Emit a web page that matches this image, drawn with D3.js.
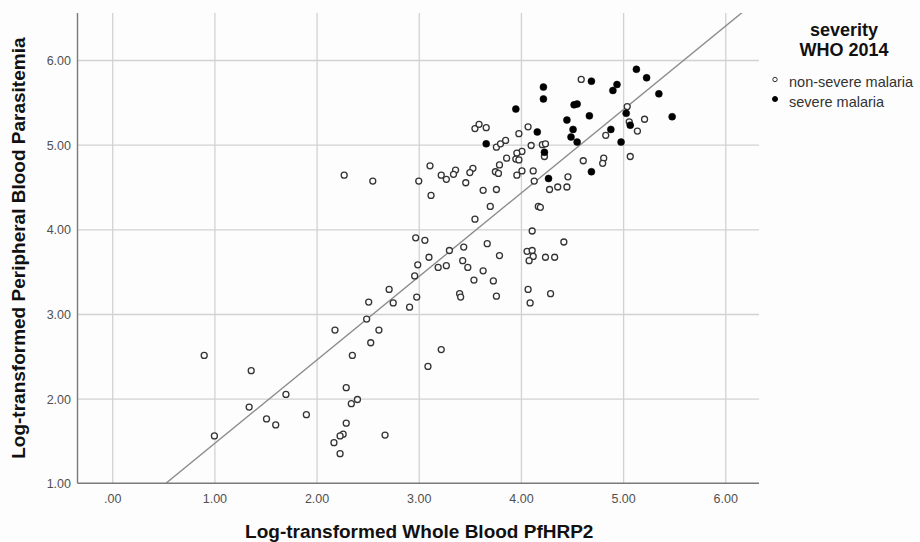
<!DOCTYPE html>
<html>
<head>
<meta charset="utf-8">
<script src="https://cdn.jsdelivr.net/npm/d3@7"></script>
<style>
  html, body { margin: 0; padding: 0; background: #fdfdfd; }
  svg { display: block; font-family: "Liberation Sans", Arial, sans-serif; }
</style>
</head>
<body>
<svg id="chart" width="920" height="542"></svg>
<script>
// ---------- data ----------
const xTickValues = [0, 1, 2, 3, 4, 5, 6];
const xTickLabels = [".00", "1.00", "2.00", "3.00", "4.00", "5.00", "6.00"];
const yTickValues = [1, 2, 3, 4, 5, 6];
const yTickLabels = ["1.00", "2.00", "3.00", "4.00", "5.00", "6.00"];

const xTitle = "Log-transformed Whole Blood PfHRP2";
const yTitle = "Log-transformed Peripheral Blood Parasitemia";
const legendTitle = ["severity", "WHO 2014"];
const seriesNames = ["non-severe malaria", "severe malaria"];

// non-severe malaria: [PfHRP2, parasitemia]
const nonSevere = [
  [0.90, 2.51], [1.00, 1.56], [1.36, 2.33], [1.34, 1.90], [1.51, 1.76], [1.60, 1.69],
  [1.70, 2.05], [1.90, 1.81], [2.18, 2.81], [2.51, 3.14], [2.71, 3.29], [2.75, 3.13],
  [2.49, 2.94], [2.61, 2.81], [2.53, 2.66], [2.35, 2.51], [2.29, 2.13], [2.40, 1.99],
  [2.34, 1.94], [2.29, 1.71], [2.26, 1.58], [2.23, 1.56], [2.17, 1.48], [2.23, 1.35],
  [2.67, 1.57], [2.91, 3.08], [2.98, 3.20], [2.96, 3.45], [2.99, 3.58], [3.10, 3.67],
  [3.19, 3.55], [3.27, 3.57], [3.30, 3.75], [3.09, 2.38], [3.22, 2.58], [3.43, 3.63],
  [3.48, 3.55], [3.40, 3.24], [3.41, 3.20], [3.54, 3.40], [3.63, 3.51], [3.73, 3.39],
  [3.76, 3.21], [3.79, 3.69], [4.07, 3.29], [4.09, 3.13], [4.29, 3.24], [4.06, 3.74],
  [4.11, 3.75], [4.12, 3.68], [4.08, 3.63], [4.24, 3.67], [4.33, 3.67], [2.97, 3.90],
  [3.06, 3.87], [3.44, 3.79], [3.67, 3.83], [4.11, 3.98], [2.27, 4.64], [2.55, 4.57],
  [3.00, 4.57], [3.11, 4.75], [3.22, 4.64], [3.27, 4.59], [3.12, 4.40], [3.55, 5.19],
  [3.59, 5.24], [3.66, 5.20], [4.07, 5.21], [3.98, 5.13], [3.76, 4.97], [3.80, 5.01],
  [3.85, 5.05], [4.10, 4.99], [4.21, 5.00], [4.24, 5.01], [4.23, 4.86], [4.01, 4.92],
  [3.96, 4.90], [3.86, 4.84], [3.95, 4.83], [3.98, 4.82], [3.79, 4.76], [3.53, 4.72],
  [3.50, 4.67], [3.36, 4.70], [3.34, 4.65], [3.75, 4.68], [3.78, 4.66], [4.01, 4.69],
  [3.96, 4.64], [4.12, 4.69], [4.13, 4.57], [4.46, 4.62], [3.46, 4.55], [3.63, 4.46],
  [3.76, 4.47], [4.28, 4.47], [4.36, 4.50], [4.45, 4.50], [3.70, 4.27], [4.17, 4.27],
  [4.19, 4.26], [3.55, 4.12], [4.42, 3.85], [4.59, 5.77], [5.04, 5.45], [5.06, 5.27],
  [5.21, 5.30], [5.14, 5.16], [4.83, 5.11], [4.61, 4.81], [4.81, 4.84], [4.80, 4.78],
  [5.07, 4.86]
];

// severe malaria
const severe = [
  [3.95, 5.42], [4.16, 5.15], [3.66, 5.01], [4.23, 4.91], [4.27, 4.60], [4.22, 5.68],
  [4.22, 5.54], [4.69, 4.68], [4.69, 5.75], [4.90, 5.64], [4.94, 5.71], [5.13, 5.89],
  [5.23, 5.79], [5.35, 5.60], [5.48, 5.33], [4.45, 5.29], [4.52, 5.47], [4.55, 5.48],
  [4.67, 5.34], [4.51, 5.18], [4.49, 5.09], [4.55, 5.03], [4.88, 5.18], [4.98, 5.03],
  [5.03, 5.37], [5.07, 5.23]
];

// linear fit line
const fitIntercept = 0.482;
const fitSlope = 0.986;

// ---------- layout ----------
const pL = 77.5, pR = 759, pT = 13, pB = 483.3;
const svg = d3.select("#chart");

const x = d3.scaleLinear().domain([-0.34, 6.33]).range([pL, pR]);
const y = d3.scaleLinear().domain([1, 6.555]).range([pB, pT]);

svg.append("rect").attr("x", 0).attr("y", 0).attr("width", 920).attr("height", 542).attr("fill", "#fdfdfd");

// gridlines
const gridColor = "#d2d2d2";
svg.append("g")
  .attr("transform", `translate(0,${pB})`)
  .call(d3.axisBottom(x).tickValues(xTickValues).tickSize(-(pB - pT)).tickFormat(""))
  .call(g => g.select(".domain").remove())
  .call(g => g.selectAll("line").attr("stroke", gridColor).attr("stroke-width", 1.3));

svg.append("g")
  .attr("transform", `translate(${pL},0)`)
  .call(d3.axisLeft(y).tickValues(yTickValues.filter(v => v > 1)).tickSize(-(pR - pL)).tickFormat(""))
  .call(g => g.select(".domain").remove())
  .call(g => g.selectAll("line").attr("stroke", gridColor).attr("stroke-width", 1.3));

// axis lines
svg.append("line").attr("x1", pL).attr("x2", pL).attr("y1", pT).attr("y2", pB)
  .attr("stroke", "#7a7a7a").attr("stroke-width", 1.4);
svg.append("line").attr("x1", pL).attr("x2", pR).attr("y1", pB).attr("y2", pB)
  .attr("stroke", "#7a7a7a").attr("stroke-width", 1.4);

// tick labels via axes
svg.append("g")
  .attr("transform", `translate(0,${pB})`)
  .call(d3.axisBottom(x).tickValues(xTickValues).tickSize(0).tickPadding(0)
    .tickFormat((d, i) => xTickLabels[i]))
  .call(g => g.select(".domain").remove())
  .call(g => g.selectAll("text")
    .attr("y", 19.5).attr("dy", null)
    .attr("font-size", "12.5px").attr("fill", "#505050")
    .attr("font-family", "'Liberation Sans', Arial, sans-serif"));

svg.append("g")
  .attr("transform", `translate(${pL},0)`)
  .call(d3.axisLeft(y).tickValues(yTickValues).tickSize(0).tickPadding(0)
    .tickFormat((d, i) => yTickLabels[i]))
  .call(g => g.select(".domain").remove())
  .call(g => g.selectAll("text")
    .attr("x", -6.5).attr("dy", "0.36em")
    .attr("font-size", "12.5px").attr("fill", "#505050")
    .attr("font-family", "'Liberation Sans', Arial, sans-serif"));

// clip for fit line
svg.append("clipPath").attr("id", "plotclip")
  .append("rect").attr("x", pL).attr("y", pT).attr("width", pR - pL).attr("height", pB - pT);

const xd = x.domain();
svg.append("line")
  .attr("clip-path", "url(#plotclip)")
  .attr("x1", x(xd[0])).attr("y1", y(fitIntercept + fitSlope * xd[0]))
  .attr("x2", x(xd[1])).attr("y2", y(fitIntercept + fitSlope * xd[1]))
  .attr("stroke", "#8c8c8c").attr("stroke-width", 1.4);

// points
svg.append("g").selectAll("circle").data(nonSevere).join("circle")
  .attr("cx", d => x(d[0])).attr("cy", d => y(d[1])).attr("r", 3.0)
  .attr("fill", "#fdfdfd").attr("stroke", "#333").attr("stroke-width", 1.3);

svg.append("g").selectAll("circle").data(severe).join("circle")
  .attr("cx", d => x(d[0])).attr("cy", d => y(d[1])).attr("r", 3.5)
  .attr("fill", "#000").attr("stroke", "#000").attr("stroke-width", 0.5);

// axis titles
svg.append("text")
  .attr("x", (pL + pR) / 2 + 1).attr("y", 538)
  .attr("text-anchor", "middle").attr("font-weight", "bold").attr("font-size", "19px")
  .attr("fill", "#111").text(xTitle);

svg.append("text")
  .attr("transform", `translate(25,${(pT + pB) / 2}) rotate(-90)`)
  .attr("text-anchor", "middle").attr("font-weight", "bold").attr("font-size", "19px")
  .attr("fill", "#111").text(yTitle);

// legend
const lg = svg.append("g");
lg.selectAll("text.lt").data(legendTitle).join("text").attr("class", "lt")
  .attr("x", 844).attr("y", (d, i) => 36 + i * 20)
  .attr("text-anchor", "middle").attr("font-weight", "bold").attr("font-size", "18px")
  .attr("fill", "#111").text(d => d);

const items = lg.selectAll("g.item").data(seriesNames).join("g").attr("class", "item")
  .attr("transform", (d, i) => `translate(0,${i * 19.5})`);
items.append("circle").attr("cx", 775).attr("cy", 79.5)
  .attr("r", (d, i) => i === 0 ? 2.2 : 2.5)
  .attr("fill", (d, i) => i === 0 ? "#fdfdfd" : "#000")
  .attr("stroke", (d, i) => i === 0 ? "#333" : "#000").attr("stroke-width", 1);
items.append("text").attr("x", 789).attr("y", 87)
  .attr("font-size", "14.5px").attr("fill", "#333").text(d => d);
</script>
</body>
</html>
